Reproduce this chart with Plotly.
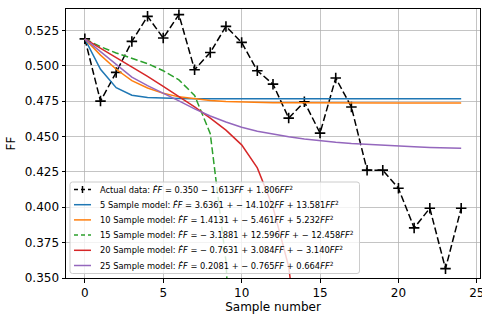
import plotly.graph_objects as go

# ---------------- data ----------------
samples = list(range(25))
actual_ff = [0.519, 0.475, 0.4953, 0.5172, 0.5349, 0.5196, 0.5361, 0.4972, 0.5094, 0.5278,
             0.5165, 0.4965, 0.487, 0.463, 0.4745, 0.4524, 0.4913, 0.4708, 0.4262, 0.4262,
             0.4134, 0.3854, 0.3993, 0.3566, 0.3993]
model5_ff = [0.519, 0.4975, 0.4845, 0.4792, 0.4776, 0.4770, 0.4768, 0.4767, 0.4767, 0.4767,
             0.4767, 0.4767, 0.4767, 0.4767, 0.4767, 0.4767, 0.4767, 0.4767, 0.4767, 0.4767,
             0.4767, 0.4767, 0.4767, 0.4767, 0.4767]
model10_ff = [0.519, 0.5075, 0.4975, 0.4895, 0.4843, 0.4805, 0.478, 0.4765, 0.4755, 0.4748,
              0.4744, 0.4741, 0.4739, 0.4738, 0.4737, 0.4737, 0.4736, 0.4736, 0.4736, 0.4736,
              0.4736, 0.4736, 0.4736, 0.4736, 0.4736]
model15_ff = [0.519, 0.5135, 0.509, 0.505, 0.5015, 0.4965, 0.490, 0.479, 0.452, 0.362, 0.15]
model20_ff = [0.519, 0.5125, 0.506, 0.499, 0.4925, 0.4855, 0.4785, 0.471, 0.463, 0.4545,
              0.4441, 0.4278, 0.400, 0.358, 0.27]
model25_ff = [0.519, 0.510, 0.5005, 0.492, 0.486, 0.4807, 0.4752, 0.4695, 0.4645, 0.4603,
              0.4565, 0.4537, 0.4515, 0.4498, 0.4483, 0.447, 0.4459, 0.445, 0.4443, 0.4437,
              0.4431, 0.4427, 0.4423, 0.442, 0.4417]

D = "<i>F\u0307F</i>"
FF = "<i>FF</i>"
legend_labels = [
    f"Actual data: {D} = 0.350 − 1.613{FF} + 1.806{FF}<sup>2</sup>",
    f"5 Sample model: {D} = 3.6361 + − 14.102{FF} + 13.581{FF}<sup>2</sup>",
    f"10 Sample model: {D} = 1.4131 + − 5.461{FF} + 5.232{FF}<sup>2</sup>",
    f"15 Sample model: {D} = − 3.1881 + 12.596{FF} + − 12.458{FF}<sup>2</sup>",
    f"20 Sample model: {D} = − 0.7631 + 3.084{FF} + − 3.140{FF}<sup>2</sup>",
    f"25 Sample model: {D} = 0.2081 + − 0.765{FF} + 0.664{FF}<sup>2</sup>",
]
x_ticks = [0, 5, 10, 15, 20, 25]
y_ticks = [0.350, 0.375, 0.400, 0.425, 0.450, 0.475, 0.500, 0.525]

# ---------------- styles ----------------
colors = ["black", "#1f77b4", "#ff7f0e", "#2ca02c", "#d62728", "#9467bd"]
dashes = ["7px,3px", "solid", "solid", "7px,3px", "solid", "solid"]
series = [actual_ff, model5_ff, model10_ff, model15_ff, model20_ff, model25_ff]

W, H = 482, 320
ML, MR, MT, MB = 66, 2, 9, 42
PW, PH = W - ML - MR, H - MT - MB

def px(xp):
    return (xp - ML) / PW

def py(yp):
    return (H - MB - yp) / PH

fig = go.Figure()
for i, ys in enumerate(series):
    if i == 0:
        kw = dict(mode="lines+markers",
                  marker=dict(symbol="cross-thin", size=7.5,
                              line=dict(color="black", width=1.6)))
    else:
        kw = dict(mode="lines")
    fig.add_trace(go.Scatter(x=samples[:len(ys)], y=ys, name=legend_labels[i],
                             line=dict(color=colors[i], width=1.5, dash=dashes[i]),
                             showlegend=False, hoverinfo="skip", **kw))

# ---------------- manual legend (matplotlib-like) ----------------
bx0, by0, bx1, by1 = 70, 182, 359.5, 273.5
r = 2.5
path = (f"M {px(bx0 + r)},{py(by0)} L {px(bx1 - r)},{py(by0)} "
        f"Q {px(bx1)},{py(by0)} {px(bx1)},{py(by0 + r)} "
        f"L {px(bx1)},{py(by1 - r)} Q {px(bx1)},{py(by1)} {px(bx1 - r)},{py(by1)} "
        f"L {px(bx0 + r)},{py(by1)} Q {px(bx0)},{py(by1)} {px(bx0)},{py(by1 - r)} "
        f"L {px(bx0)},{py(by0 + r)} Q {px(bx0)},{py(by0)} {px(bx0 + r)},{py(by0)} Z")
shapes = [dict(type="path", xref="paper", yref="paper", path=path,
               fillcolor="rgba(255,255,255,0.8)", line=dict(color="#cccccc", width=1),
               layer="above")]
annotations = []
row_y0, row_dy = 189.5, 15.2
for i, lab in enumerate(legend_labels):
    yc = row_y0 + i * row_dy
    shapes.append(dict(type="line", xref="paper", yref="paper",
                       x0=px(74), x1=px(91), y0=py(yc), y1=py(yc),
                       line=dict(color=colors[i], width=1.5,
                                 dash="4px,3px" if dashes[i] != "solid" else "solid"),
                       layer="above"))
    if i == 0:
        shapes.append(dict(type="line", xref="paper", yref="paper",
                           x0=px(82.5), x1=px(82.5), y0=py(yc - 3.5), y1=py(yc + 3.5),
                           line=dict(color="black", width=1.5), layer="above"))
    annotations.append(dict(text=lab, xref="paper", yref="paper", x=px(97.5), y=py(yc),
                            xanchor="left", yanchor="middle", showarrow=False,
                            font=dict(size=8.3, color="black", family="DejaVu Sans")))

axis_common = dict(showline=True, mirror=True, linecolor="black", linewidth=1,
                   ticks="outside", ticklen=3.5, tickwidth=1, tickcolor="black",
                   showgrid=True, gridcolor="rgba(176,176,176,0.75)", gridwidth=1,
                   zeroline=False, tickfont=dict(size=12, color="black"),
                   automargin=False, ticklabeloverflow="allow")

fig.update_layout(
    width=W, height=H,
    margin=dict(l=ML, r=MR, t=MT, b=MB),
    paper_bgcolor="white", plot_bgcolor="white",
    font=dict(family="DejaVu Sans", color="black"),
    xaxis=dict(range=[-1.2, 25.2], tickvals=x_ticks, ticktext=[str(v) for v in x_ticks],
               title=dict(text="Sample number", font=dict(size=12), standoff=2),
               **axis_common),
    yaxis=dict(range=[0.35, 0.5401], tickvals=y_ticks, ticktext=[f"{v:.3f}" for v in y_ticks],
               title=dict(text="FF", font=dict(size=12), standoff=6),
               **axis_common),
    shapes=shapes, annotations=annotations,
    hovermode=False,
)

fig.write_html("out.html",
               config={"displayModeBar": False, "staticPlot": True},
               post_script="document.body.style.margin='0';document.body.style.overflow='hidden';")
